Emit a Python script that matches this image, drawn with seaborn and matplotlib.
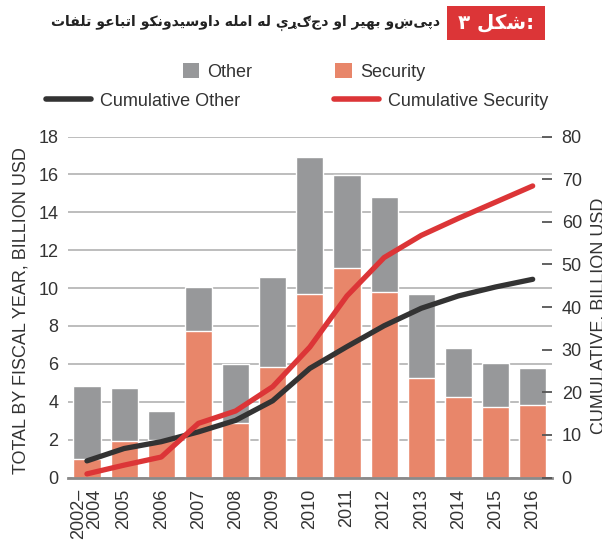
import matplotlib
matplotlib.use("Agg")
import matplotlib.pyplot as plt
import seaborn as sns
import pandas as pd
from matplotlib.patches import Patch, Rectangle
from matplotlib.lines import Line2D

# ---------------- data ----------------
years = ["2002–\n2004", "2005", "2006", "2007", "2008", "2009", "2010",
         "2011", "2012", "2013", "2014", "2015", "2016"]
total = [4.82, 4.75, 3.53, 10.05, 6.01, 10.6, 16.93, 15.97, 14.8, 9.66, 6.82, 6.03, 5.76]
security = [0.96, 1.95, 1.98, 7.75, 2.9, 5.83, 9.66, 11.08, 9.77, 5.23, 4.23, 3.74, 3.85]
cum_other = [3.9, 6.8, 8.4, 10.7, 13.4, 18.0, 25.6, 30.7, 35.6, 39.7, 42.6, 44.7, 46.5]
cum_security = [0.85, 2.9, 4.8, 12.7, 15.6, 21.3, 30.6, 42.6, 51.6, 56.8, 60.8, 64.6, 68.4]

title_text = "دپیښو بهیر او دجګړې له امله داوسیدونکو اتباعو تلفات"
badge_word = "شکل"
badge_num = "۳"
ylabel_left = "TOTAL BY FISCAL YEAR, BILLION USD"
ylabel_right = "CUMULATIVE, BILLION USD"

# ---------------- arabic shaping (matplotlib has no shaper) ----------------
FORMS = {
    '\u0627': ('\uFE8D', '\uFE8E', None, None),
    '\u062F': ('\uFEA9', '\uFEAA', None, None),
    '\u0631': ('\uFEAD', '\uFEAE', None, None),
    '\u0648': ('\uFEED', '\uFEEE', None, None),
    '\u0693': ('\u0693', '\u0693', None, None),
    '\u0628': ('\uFE8F', '\uFE90', '\uFE91', '\uFE92'),
    '\u067E': ('\uFB56', '\uFB57', '\uFB58', '\uFB59'),
    '\u062A': ('\uFE95', '\uFE96', '\uFE97', '\uFE98'),
    '\u062C': ('\uFE9D', '\uFE9E', '\uFE9F', '\uFEA0'),
    '\u0633': ('\uFEB1', '\uFEB2', '\uFEB3', '\uFEB4'),
    '\u0634': ('\uFEB5', '\uFEB6', '\uFEB7', '\uFEB8'),
    '\u0639': ('\uFEC9', '\uFECA', '\uFECB', '\uFECC'),
    '\u0641': ('\uFED1', '\uFED2', '\uFED3', '\uFED4'),
    '\u0644': ('\uFEDD', '\uFEDE', '\uFEDF', '\uFEE0'),
    '\u0645': ('\uFEE1', '\uFEE2', '\uFEE3', '\uFEE4'),
    '\u0646': ('\uFEE5', '\uFEE6', '\uFEE7', '\uFEE8'),
    '\u0647': ('\uFEE9', '\uFEEA', '\uFEEB', '\uFEEC'),
    '\u06A9': ('\uFB8E', '\uFB8F', '\uFB90', '\uFB91'),
    '\u06CC': ('\uFBFC', '\uFBFD', '\uFBFE', '\uFBFF'),
    '\u06D0': ('\uFBE4', '\uFBE5', '\uFBE6', '\uFBE7'),
}


def shape(s):
    out = []
    for i, ch in enumerate(s):
        if ch not in FORMS:
            out.append(ch)
            continue
        prev = s[i - 1] if i > 0 else ''
        nxt = s[i + 1] if i + 1 < len(s) else ''
        jp = prev in FORMS and FORMS[prev][2] is not None
        jn = FORMS[ch][2] is not None and nxt in FORMS
        f = FORMS[ch]
        if jp and jn:
            out.append(f[3])
        elif jp:
            out.append(f[1])
        elif jn:
            out.append(f[2])
        else:
            out.append(f[0])
    return ''.join(out)[::-1]


# ---------------- style ----------------
sns.set_theme(style="white")
plt.rcParams['font.family'] = ['Liberation Sans', 'DejaVu Sans']
FS = 13
GRAY = "#97989a"
SALMON = "#e8866a"
RED = "#dc3537"
BLACK = "#333333"

fig = plt.figure(figsize=(6.02, 5.54), dpi=100)
ax = fig.add_axes([68 / 602, 1 - 477.5 / 554, (552 - 68) / 602, (477.5 - 136.5) / 554])

df = pd.DataFrame({"year": years, "total": total, "security": security,
                   "cum_other": cum_other, "cum_security": cum_security})

sns.barplot(data=df, x="year", y="total", color=GRAY, saturation=1,
            width=0.73, ax=ax, zorder=2)
sns.barplot(data=df, x="year", y="security", color=SALMON, saturation=1,
            width=0.73, ax=ax, zorder=3)

ax.set_ylim(0, 18)
ax.set_xlim(-0.51, 12.52)
ax.set_yticks(range(0, 19, 2))
ax.yaxis.grid(True, color="#bdbdbd", lw=1.4, zorder=0)
ax.set_axisbelow(True)
for s in ["top", "left", "right"]:
    ax.spines[s].set_visible(False)
ax.spines["bottom"].set_color("#8a8a8a")
ax.spines["bottom"].set_linewidth(2)
ax.spines["bottom"].set_zorder(5)
ax.tick_params(axis="y", length=0, pad=7, labelsize=FS, colors="#333333")
ax.tick_params(axis="x", length=0, pad=8, labelsize=FS, colors="#333333")
for lab in ax.get_xticklabels():
    lab.set_rotation(90)
    lab.set_va("top")
    lab.set_ha("center")
    lab.set_multialignment("right")
    lab.set_linespacing(0.95)
ax.set_xlabel("")
ax.set_ylabel(ylabel_left, fontsize=FS, color="#333333", labelpad=4)
ax.yaxis.set_label_coords(-0.08, 0.49)

ax2 = ax.twinx()
sns.lineplot(data=df, x="year", y="cum_other", color=BLACK, lw=3.8, ax=ax2,
             sort=False, solid_capstyle="round", zorder=6)
sns.lineplot(data=df, x="year", y="cum_security", color=RED, lw=3.8, ax=ax2,
             sort=False, solid_capstyle="round", zorder=7)
ax2.set_ylim(0, 80)
ax2.set_yticks(range(0, 81, 10))
ax2.set_xlim(-0.51, 12.52)
for s in ["top", "left", "right", "bottom"]:
    ax2.spines[s].set_visible(False)
ax2.tick_params(axis="y", direction="in", length=7.5, width=1.3, color="#555555",
                pad=7, labelsize=FS, labelcolor="#333333", right=True)
ax2.set_ylabel("")
ax2.set_xlabel("")
fig.text(590 / 602, 1 - 316 / 554, ylabel_right, rotation=90, ha="left",
         va="center", fontsize=FS, color="#333333")

# ---------------- legends ----------------
h1 = [Patch(facecolor=GRAY, edgecolor="none", label="Other"),
      Patch(facecolor=SALMON, edgecolor="none", label="Security")]
lg1 = fig.legend(handles=h1, loc="center left", bbox_to_anchor=(183 / 602, 1 - 72 / 554),
                 ncol=2, frameon=False, fontsize=FS, handlelength=0.9, handleheight=0.9,
                 handletextpad=0.45, columnspacing=4.6, borderpad=0, borderaxespad=0)
for t in lg1.get_texts():
    t.set_color("#333333")
h2 = [Line2D([], [], color=BLACK, lw=4, solid_capstyle="round", label="Cumulative Other"),
      Line2D([], [], color=RED, lw=4, solid_capstyle="round", label="Cumulative Security")]
lg2 = fig.legend(handles=h2, loc="center left", bbox_to_anchor=(46 / 602, 1 - 101 / 554),
                 ncol=2, frameon=False, fontsize=FS, handlelength=2.5,
                 handletextpad=0.5, columnspacing=5.2, borderpad=0, borderaxespad=0)
for t in lg2.get_texts():
    t.set_color("#333333")

# ---------------- title ----------------
fig.patches.append(Rectangle((447 / 602, 1 - 40 / 554), 98 / 602, 34 / 554,
                             transform=fig.transFigure, facecolor=RED,
                             edgecolor="none"))
badge = fig.text(496 / 602, 1 - 23 / 554, badge_num + " " + shape(badge_word) + ":",
                 ha="center", va="center", fontsize=15, fontweight="bold",
                 color="white", family=["DejaVu Sans"])
ttl = fig.text(440 / 602, 1 - 23 / 554, shape(title_text), ha="right", va="center",
               fontsize=13, fontweight="bold", color="#222222", family=["DejaVu Sans"])

# fit the title and badge widths to the reference spans
renderer = fig.canvas.get_renderer()
w = ttl.get_window_extent(renderer).width
ttl.set_fontsize(13 * 390 / w)
wb = badge.get_window_extent(renderer).width
badge.set_fontsize(15 * 76 / wb)

fig.savefig("out.png", dpi=100)
